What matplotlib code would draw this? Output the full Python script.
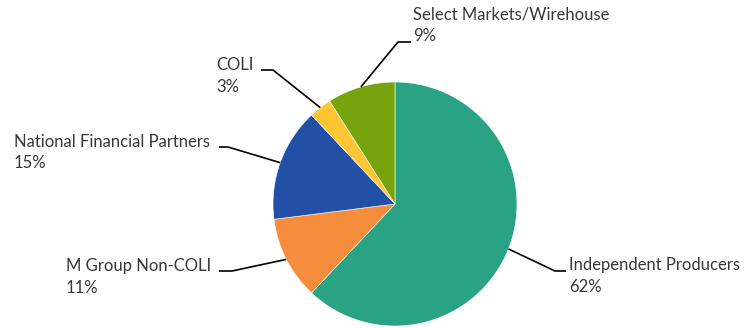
import matplotlib.pyplot as plt
import numpy as np

labels = ["Independent Producers", "M Group Non-COLI", "National Financial Partners",
          "COLI", "Select Markets/Wirehouse"]
shares = [62, 11, 15, 3, 9]
colors = ["#29A384", "#F58D3C", "#2150A6", "#FDC632", "#77A40C"]

W, H = 747, 328
fig = plt.figure(figsize=(W / 100, H / 100), dpi=100)
ax = fig.add_axes([0, 0, 1, 1])

cx, cy, r = 395, H - 204, 122
wedges, _ = ax.pie(shares, colors=colors, startangle=90, counterclock=False,
                   center=(cx, cy), radius=r, frame=True,
                   wedgeprops=dict(edgecolor="white", linewidth=0.4))
ax.set_xlim(0, W)
ax.set_ylim(0, H)
ax.set_aspect("equal")
ax.axis("off")

# elbow point, end of horizontal segment, text anchor (pixel coords, y down)
layout = [
    ((555, 271), (566, 271), (569, 276), "left"),
    ((232, 271), (219, 271), (211, 277), "right"),
    ((228, 147), (219, 147), (210, 152.5), "right"),
    ((273, 70), (261, 70), (254, 76), "right"),
    ((398, 42), (411, 42), (413, 25), "left"),
]

for w, name, pct, (elbow, end, tpos, ha) in zip(wedges, labels, shares, layout):
    ang = np.deg2rad((w.theta1 + w.theta2) / 2)
    ex, ey = cx + r * np.cos(ang), cy + r * np.sin(ang)
    ax.plot([ex, elbow[0], end[0]], [ey, H - elbow[1], H - end[1]],
            color="black", lw=1.2, solid_capstyle="butt")
    ax.text(tpos[0], H - tpos[1], f"{name}\n{pct}%", ha=ha, va="center",
            multialignment="left", fontsize=12, color="#383838",
            family="Lato", linespacing=1.42)

fig.savefig("out.png", dpi=100)
